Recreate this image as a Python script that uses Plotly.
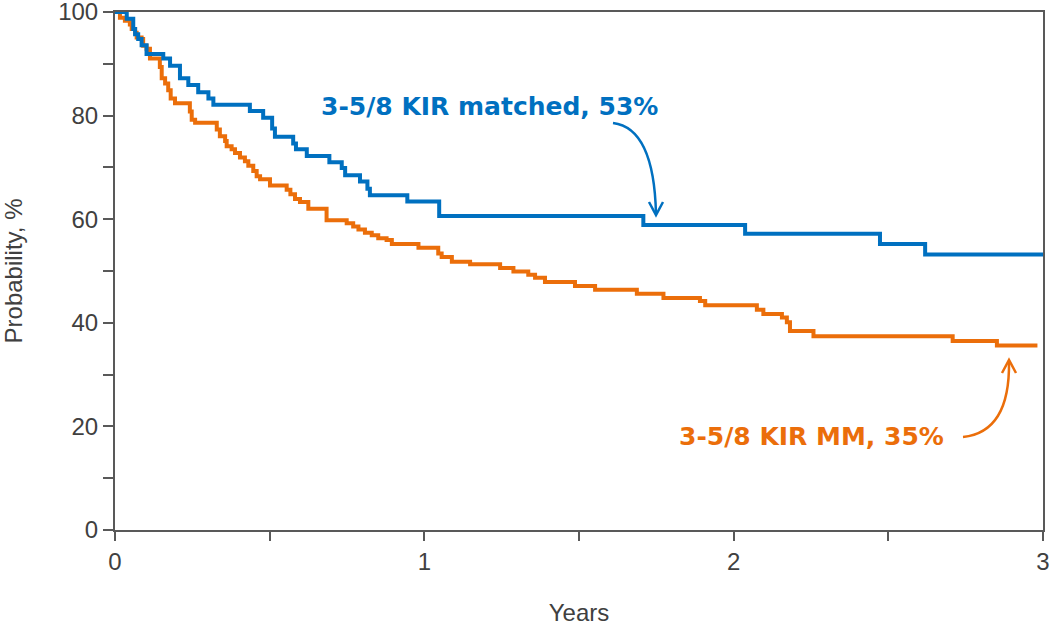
import plotly.graph_objects as go

# ---- data ----
matched_t = [0, 0.038, 0.059, 0.065, 0.075, 0.086, 0.102, 0.156, 0.178, 0.210, 0.237,
             0.269, 0.302, 0.318, 0.436, 0.479, 0.508, 0.517, 0.576, 0.585, 0.620,
             0.693, 0.733, 0.744, 0.792, 0.816, 0.824, 0.945, 1.048, 1.708, 2.037,
             2.473, 2.619, 3.0]
matched_s = [100, 98.7, 96.7, 95.7, 94.8, 93.6, 91.9, 91.0, 89.6, 87.2, 85.9,
             84.5, 83.3, 82.1, 80.9, 79.6, 77.5, 75.9, 74.6, 73.5, 72.2,
             71.0, 69.9, 68.5, 67.3, 65.9, 64.6, 63.4, 60.6, 58.9, 57.2,
             55.2, 53.2, 53.2]

mm_t = [0, 0.016, 0.032, 0.048, 0.054, 0.065, 0.070, 0.086, 0.091, 0.102, 0.113,
        0.145, 0.151, 0.162, 0.172, 0.180, 0.194, 0.242, 0.248, 0.259, 0.329,
        0.339, 0.356, 0.361, 0.377, 0.388, 0.404, 0.420, 0.431, 0.447, 0.458,
        0.469, 0.501, 0.555, 0.567, 0.582, 0.598, 0.625, 0.684, 0.749, 0.770,
        0.787, 0.808, 0.830, 0.851, 0.878, 0.895, 0.981, 1.045, 1.056, 1.089,
        1.148, 1.245, 1.288, 1.336, 1.358, 1.390, 1.487, 1.552, 1.687, 1.773,
        1.891, 1.908, 2.075, 2.096, 2.156, 2.172, 2.182, 2.258, 2.708, 2.851,
        2.982]
mm_s = [100, 98.9, 98.3, 97.6, 96.7, 96.0, 95.1, 94.8, 93.5, 92.9, 91.0,
        89.4, 87.2, 86.2, 84.9, 83.3, 82.4, 80.8, 79.2, 78.6, 77.3,
        76.0, 75.1, 74.1, 73.5, 72.8, 71.9, 71.2, 70.3, 69.3, 68.3,
        67.7, 66.5, 65.7, 64.8, 63.9, 63.3, 62.0, 59.8, 59.2, 58.6,
        58.0, 57.4, 56.9, 56.3, 56.0, 55.2, 54.5, 53.4, 52.7, 51.8,
        51.3, 50.6, 49.9, 49.3, 48.7, 47.9, 47.1, 46.4, 45.6, 44.8,
        44.2, 43.4, 42.5, 41.7, 41.0, 40.1, 38.4, 37.4, 36.5, 35.6,
        35.6]

labels = ["3-5/8 KIR matched, 53%", "3-5/8 KIR MM, 35%"]
x_ticks = [0, 1, 2, 3]
y_ticks = [0, 20, 40, 60, 80, 100]

BLUE = "#0070C0"
ORANGE = "#EB6E0A"
AXIS = "#595959"
TEXT = "#404040"

TOP = 12  # top of plot area in pixels

fig = go.Figure()
fig.add_trace(go.Scatter(x=mm_t, y=mm_s, mode="lines", line=dict(color=ORANGE, width=4, shape="hv"),
                         showlegend=False, hoverinfo="skip"))
fig.add_trace(go.Scatter(x=matched_t, y=matched_s, mode="lines", line=dict(color=BLUE, width=4, shape="hv"),
                         showlegend=False, hoverinfo="skip"))

# pixel -> data helpers for annotation geometry (plot area 115..1043, TOP..530)
def dx(px):
    return (px - 115) / (1043 - 115) * 3

def dy(py):
    return (530 - py) / (530 - TOP) * 100

# curved arrows
blue_curve = f"M {dx(613)},{dy(123)} Q {dx(654)},{dy(128)} {dx(656)},{dy(214)}"
blue_head = f"M {dx(649)},{dy(202)} L {dx(656)},{dy(215)} L {dx(663)},{dy(202)}"
or_curve = f"M {dx(963)},{dy(437)} Q {dx(1010)},{dy(432)} {dx(1009)},{dy(362)}"
or_head = f"M {dx(1002)},{dy(373)} L {dx(1009)},{dy(360)} L {dx(1016)},{dy(373)}"
for p, c in [(blue_curve, BLUE), (blue_head, BLUE), (or_curve, ORANGE), (or_head, ORANGE)]:
    fig.add_shape(type="path", path=p, xref="x", yref="y", line=dict(color=c, width=2.5))

fig.add_annotation(x=dx(489), y=dy(106), xref="x", yref="y", text=f"<b>{labels[0]}</b>",
                   showarrow=False, font=dict(family="DejaVu Sans", size=25, color=BLUE))
fig.add_annotation(x=dx(811), y=dy(436), xref="x", yref="y", text=f"<b>{labels[1]}</b>",
                   showarrow=False, font=dict(family="DejaVu Sans", size=25, color=ORANGE))

fig.update_layout(
    width=1050, height=629,
    margin=dict(l=115, r=7, t=TOP, b=99),
    plot_bgcolor="white", paper_bgcolor="white",
    font=dict(family="Liberation Sans, Arial", size=24, color=TEXT),
)
fig.update_xaxes(
    range=[0, 3], tickvals=x_ticks, ticktext=[str(v) for v in x_ticks],
    showgrid=False, zeroline=False, showline=True, linecolor=AXIS, linewidth=2, mirror=True,
    ticks="outside", ticklen=9, tickwidth=1.5, tickcolor=AXIS,
    minor=dict(tickvals=[0.5, 1.5, 2.5], ticks="outside", ticklen=9, tickwidth=1.5, tickcolor=AXIS),
    tickfont=dict(size=24, color=TEXT), ticklabeloverflow="allow", automargin=False,
    title=dict(text="Years", font=dict(size=24, color=TEXT), standoff=30),
)
fig.update_yaxes(
    range=[0, 100], tickvals=y_ticks, ticktext=[str(v) for v in y_ticks],
    showgrid=False, zeroline=False, showline=True, linecolor=AXIS, linewidth=2, mirror=True,
    ticks="outside", ticklen=10, tickwidth=1.5, tickcolor=AXIS,
    minor=dict(tickvals=[10, 30, 50, 70, 90], ticks="outside", ticklen=10, tickwidth=1.5, tickcolor=AXIS),
    tickfont=dict(size=24, color=TEXT), ticklabeloverflow="allow", automargin=False,
    title=dict(text="Probability, %", font=dict(size=24, color=TEXT), standoff=42),
)

fig.write_html(
    "out.html",
    config={"displayModeBar": False},
    post_script="document.body.style.margin='0';document.body.style.overflow='hidden';",
)
